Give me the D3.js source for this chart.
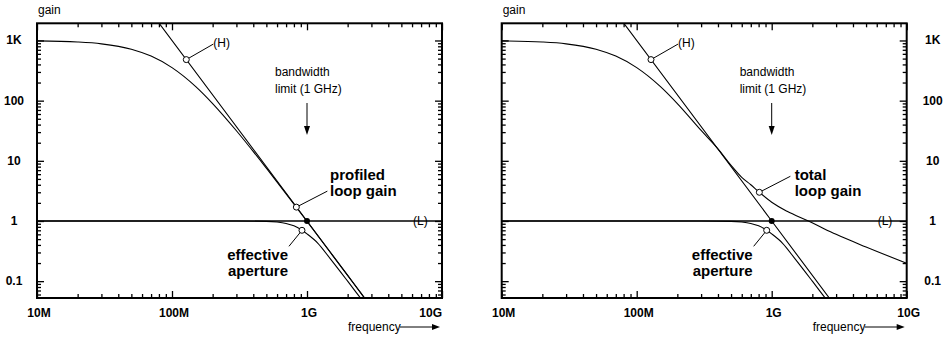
<!DOCTYPE html>
<html>
<head>
<meta charset="utf-8">
<script src="https://cdn.jsdelivr.net/npm/d3@7"></script>
<style>
body{margin:0;background:#fff}
text{font-family:"Liberation Sans",Arial,sans-serif;fill:#000}
</style>
</head>
<body>
<script>
// values (frequency in Hz, gain as ratio)
var decades=[1e7,1e8,1e9,1e10];
var decadeLabels=['10M','100M','1G','10G'];
var gainTicks=[0.1,1,10,100,1000];
var gainLabels=['0.1','1','10','100','1K'];

var hFreq=[7e7,1e9,3e9];
var hGain=[2915,1,0.037];
var lFreq=[1e7,1e10];
var lGain=[1,1];
var profFreq=[1e7,2e7,3e7,5e7,7e7,1e8,1.5e8,2e8,3e8,5e8,7e8,1e9,1.5e9,2e9,2.5e9,2.8e9];
var profGain=[985,943,879,716,550,354,171,89.4,31.6,7.54,2.83,0.985,0.294,0.1245,0.0638,0.045];
var effFreq=[1e7,1e8,3e8,5e8,6e8,7e8,8e8,9.2e8,1e9,1.2e9,1.5e9,2e9,2.5e9,2.8e9];
var effGain=[1,1,0.998,0.985,0.96,0.91,0.83,0.70,0.61,0.43,0.23,0.1,0.052,0.038];
var totFreq=[1e7,2e7,3e7,5e7,7e7,1e8,1.5e8,2e8,3e8,4e8,5e8,6e8,7e8,8.1e8,1e9,1.3e9,1.87e9,2.4e9,3e9,5e9,1e10];
var totGain=[985,943,879,716,550,354,171,89.5,32,15.8,8.4,5.3,4.0,3.0,2.05,1.45,1.0,0.76,0.6,0.37,0.198];

// marker points
var hMark=[1.276e8,481];
var profMark=[8.34e8,1.70];
var totMark=[8.1e8,3.0];
var effMark=[9.18e8,0.70];
var unityMark=[1e9,1];

var W=949,H=340;
var svg=d3.select('body').append('svg').attr('width',W).attr('height',H);

function pairs(f,g){return f.map(function(v,i){return [v,g[i]];});}

function drawPanel(id,x0,x1,labelSide,curveF,curveG,curveMark,curveText){
	var x=d3.scaleLog().domain([1e7,1e10]).range([x0,x1]);
	var y=d3.scaleLog().domain([0.0525,1930]).range([298,23.3]);
	var g=svg.append('g');

	var xMinor=[],yMinor=[];
	[1e7,1e8,1e9].forEach(function(d){for(var k=2;k<10;k++) xMinor.push(d*k);});
	[0.01,0.1,1,10,100,1000].forEach(function(d){
		for(var k=2;k<10;k++){var v=d*k; if(v>0.0525&&v<1930) yMinor.push(v);}
	});

	function ax(axis,vals,len,tr){
		g.append('g').attr('transform',tr)
			.call(axis.tickValues(vals).tickSize(-len).tickFormat(''))
			.call(function(s){s.select('.domain').remove(); s.selectAll('line').attr('stroke','#000').attr('stroke-width',1.3);});
	}
	ax(d3.axisBottom(x),xMinor,4,'translate(0,298)');
	ax(d3.axisBottom(x),decades,7,'translate(0,298)');
	ax(d3.axisTop(x),xMinor,4,'translate(0,23.3)');
	ax(d3.axisTop(x),decades,7,'translate(0,23.3)');
	ax(d3.axisLeft(y),yMinor,4,'translate('+x0+',0)');
	ax(d3.axisLeft(y),gainTicks,7,'translate('+x0+',0)');
	ax(d3.axisRight(y),yMinor,4,'translate('+x1+',0)');
	ax(d3.axisRight(y),gainTicks,7,'translate('+x1+',0)');

	g.append('rect').attr('x',x0).attr('y',23.3).attr('width',x1-x0).attr('height',298-23.3)
		.attr('fill','none').attr('stroke','#000').attr('stroke-width',2);

	// tick labels
	g.selectAll('.xl').data(decades).enter().append('text')
		.attr('x',function(d,i){return (labelSide=='left'&&i==3)?x1:x(d)+2;})
		.attr('y',317)
		.attr('text-anchor',function(d,i){return (labelSide=='left'&&i==3)?'end':'middle';})
		.style('font-weight','bold').style('font-size','12px')
		.text(function(d,i){return decadeLabels[i];});
	g.selectAll('.yl').data(gainTicks).enter().append('text')
		.attr('x',labelSide=='left'?14:x1+26)
		.attr('y',function(d){return y(d)+4;})
		.attr('text-anchor','middle')
		.style('font-weight','bold').style('font-size','12px')
		.text(function(d,i){return gainLabels[i];});

	g.append('text').attr('x',x0+1).attr('y',14).style('font-size','12px').text('gain');
	g.append('text').attr('x',x1-94).attr('y',331).style('font-size','12px').text('frequency');
	g.append('line').attr('x1',x1-42).attr('x2',x1-8).attr('y1',327).attr('y2',327)
		.attr('stroke','#000').attr('stroke-width',1);
	g.append('path').attr('d','M'+(x1-2)+',327L'+(x1-10)+',324L'+(x1-10)+',330Z').attr('fill','#000');

	// plot curves
	svg.append('clipPath').attr('id','clip'+id).append('rect')
		.attr('x',x0).attr('y',23.3).attr('width',x1-x0).attr('height',298-23.3);
	var line=d3.line().x(function(d){return x(d[0]);}).y(function(d){return y(d[1]);});
	var smooth=d3.line().x(function(d){return x(d[0]);}).y(function(d){return y(d[1]);}).curve(d3.curveMonotoneX);
	var pg=g.append('g').attr('clip-path','url(#clip'+id+')');
	pg.append('path').attr('d',line(pairs(lFreq,lGain))).attr('fill','none').attr('stroke','#000').attr('stroke-width',1.3);
	pg.append('path').attr('d',line(pairs(hFreq,hGain))).attr('fill','none').attr('stroke','#000').attr('stroke-width',1.1);
	pg.append('path').attr('d',smooth(pairs(curveF,curveG))).attr('fill','none').attr('stroke','#000').attr('stroke-width',1.1);
	pg.append('path').attr('d',smooth(pairs(effFreq,effGain))).attr('fill','none').attr('stroke','#000').attr('stroke-width',1.1);

	var ux=x(unityMark[0]),uy=y(unityMark[1]);

	// bandwidth limit note
	g.append('text').attr('x',ux-32).attr('y',76).style('font-size','12px').text('bandwidth');
	g.append('text').attr('x',ux-32).attr('y',93).style('font-size','12px').text('limit (1 GHz)');
	g.append('line').attr('x1',ux).attr('x2',ux).attr('y1',103).attr('y2',128).attr('stroke','#000').attr('stroke-width',1);
	g.append('path').attr('d','M'+ux+',135L'+(ux-3)+',126L'+(ux+3)+',126Z').attr('fill','#000');

	// leaders
	function leader(p,dx,dy){
		var cx=x(p[0]),cy=y(p[1]);
		g.append('line').attr('x1',cx).attr('y1',cy).attr('x2',cx+dx).attr('y2',cy+dy)
			.attr('stroke','#000').attr('stroke-width',1);
		g.append('circle').attr('cx',cx).attr('cy',cy).attr('r',3)
			.attr('fill','#fff').attr('stroke','#000').attr('stroke-width',1);
	}
	leader(hMark,27,-15.5);
	leader(curveMark,31,-16);
	leader(effMark,-13,16);
	g.append('circle').attr('cx',ux).attr('cy',uy).attr('r',3).attr('fill','#000');

	g.append('text').attr('x',x(hMark[0])+27).attr('y',y(hMark[1])-13).style('font-size','12px').text('(H)');
	g.append('text').attr('x',x1-29).attr('y',uy+4).style('font-size','12px').text('(L)');
	g.append('text').attr('x',ux+23).attr('y',uy-41).style('font-weight','bold').style('font-size','15px').text(curveText);
	g.append('text').attr('x',ux+23).attr('y',uy-25).style('font-weight','bold').style('font-size','15px').text('loop gain');
	g.append('text').attr('x',ux-19).attr('y',uy+39).attr('text-anchor','end').style('font-weight','bold').style('font-size','15px').text('effective');
	g.append('text').attr('x',ux-19).attr('y',uy+55).attr('text-anchor','end').style('font-weight','bold').style('font-size','15px').text('aperture');
}

drawPanel('a',37,442,'left',profFreq,profGain,profMark,'profiled');
drawPanel('b',501.7,906.7,'right',totFreq,totGain,totMark,'total');
</script>
</body>
</html>
